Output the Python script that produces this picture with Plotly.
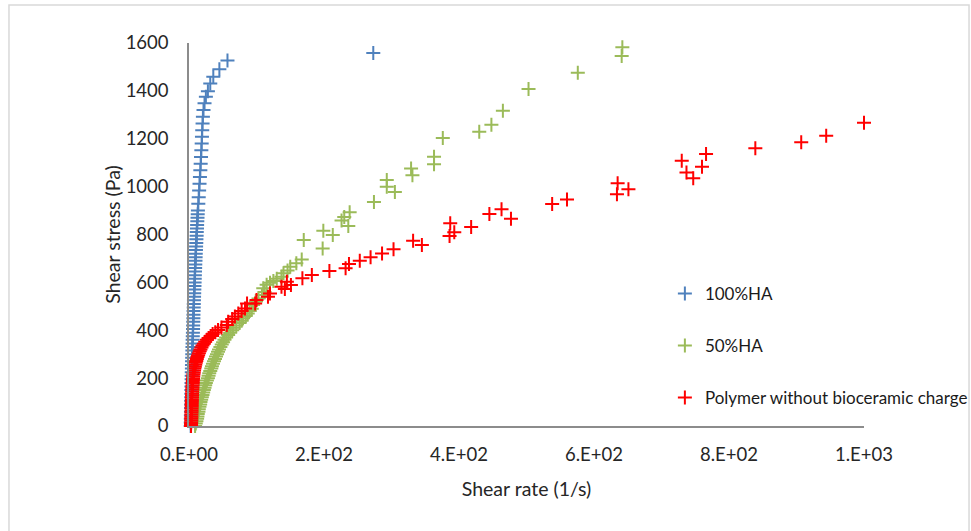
import plotly.graph_objects as go

# ---- data ----
ha100_x = [2.5, 2.6, 2.7, 2.8, 2.9, 3.0, 3.1, 3.2, 3.3, 3.4,
           3.5, 3.6, 3.7, 3.9, 4.0, 4.1, 4.3, 4.4, 4.5, 4.7,
           4.8, 5.0, 5.1, 5.3, 5.4, 5.6, 5.8, 6.0, 6.1, 6.3,
           6.5, 6.6, 6.8, 7.0, 7.1, 7.3, 7.5, 7.7, 7.9, 8.1,
           8.3, 8.5, 8.7, 8.9, 9.1, 9.3, 9.6, 9.8, 10.0, 10.3,
           10.5, 10.8, 11.0, 11.3, 11.5, 11.8, 12.0, 12.3, 12.6, 12.9,
           13.2,
           13.8, 14.4, 15.0, 15.6, 16.2, 16.8, 17.3, 17.8, 18.3, 18.8,
           19.2, 19.6, 20.1, 20.6, 21.5, 23.0, 25.0, 28.0, 31.5, 36.0,
           45.0, 57.0, 273.0]
ha100_y = [0, 15, 30, 45, 60, 75, 90, 105, 120, 135,
           150, 165, 180, 195, 210, 225, 240, 255, 270, 285,
           300, 315, 330, 345, 360, 375, 390, 405, 420, 435,
           450, 465, 480, 495, 510, 525, 540, 555, 570, 585,
           600, 615, 630, 645, 660, 675, 690, 705, 720, 735,
           750, 765, 780, 795, 810, 825, 840, 855, 870, 885,
           900,
           928, 956, 984, 1012, 1040, 1068, 1096, 1124, 1152, 1180,
           1208, 1236, 1264, 1292, 1320, 1348, 1375, 1398, 1431, 1459,
           1490, 1527, 1558]

ha50_x = [9, 10, 11, 12, 12.5, 13, 14, 14.5, 15.5, 16.5,
          17, 18, 19, 20, 21, 22, 23, 24, 25, 26.5,
          28, 29, 30, 31.5, 33, 34, 35.5, 37, 38.5, 40,
          41.5, 43, 44.5, 46.5, 48.5, 50.5, 52.5, 55, 58, 61,
          64, 66, 70, 75, 78, 80, 84, 87, 90, 93,
          95, 99, 103, 108, 112, 110, 115, 120, 125, 130,
          137, 140, 146, 150, 159, 167,
          170, 198, 199, 213, 226, 236, 230, 238, 274, 293,
          293, 305, 329, 331, 363, 363, 376, 430, 448, 465,
          503, 576, 641, 642]
ha50_y = [0, 10, 20, 30, 40, 50, 60, 70, 80, 90,
          100, 110, 120, 130, 140, 150, 160, 170, 180, 190,
          200, 210, 220, 230, 240, 250, 260, 270, 280, 290,
          300, 310, 320, 330, 340, 350, 360, 370, 380, 390,
          400, 410, 420, 430, 440, 450, 460, 470, 480, 490,
          505, 520, 533, 547, 560, 575, 590, 598, 606, 615,
          624, 638, 650, 665, 680, 696,
          777, 742, 816, 798, 858, 836, 873, 893, 936, 1000,
          1028, 978, 1076, 1048, 1093, 1125, 1203, 1229, 1259, 1317,
          1408, 1476, 1546, 1582]

poly_x = [3, 3, 3.2, 3.3, 3.4, 3.5, 3.6, 3.7, 3.8, 3.9,
          4, 4, 4.1, 4.2, 4.3, 4.4, 4.5, 4.6, 4.7, 4.8,
          5, 5.2, 5.4, 5.6, 5.8, 6, 6.3, 6.6, 7, 7.5,
          8, 8.6, 9.3, 10, 10.8, 11.6, 12.5, 13.5, 14.6, 15.8,
          17, 18.5, 20, 22, 24, 26.5, 29, 32, 35, 39,
          43, 48, 56, 58, 64, 68, 73, 78, 83, 86,
          98, 100, 117, 120, 137, 142, 145, 151, 168, 182,
          208, 232, 237, 253, 269, 286, 303, 332, 345, 386,
          393, 387, 418, 445, 463, 477, 538, 560, 634, 635,
          651, 730, 737, 747, 760, 766, 839, 907, 944, 1000]
poly_y = [0, 8, 16, 24, 32, 40, 48, 56, 64, 72,
          80, 88, 96, 104, 112, 120, 128, 136, 144, 152,
          160, 168, 176, 184, 192, 200, 208, 216, 224, 232,
          240, 248, 256, 264, 272, 280, 288, 296, 304, 312,
          320, 328, 336, 344, 352, 360, 368, 376, 384, 392,
          401, 412, 422, 436, 447, 457, 470, 480, 491, 512,
          512, 526, 540, 554, 582, 572, 603, 589, 617, 631,
          648, 659, 677, 690, 705, 721, 738, 774, 756, 794,
          809, 847, 831, 886, 906, 866, 927, 946, 968, 1014,
          989, 1108, 1059, 1035, 1083, 1136, 1160, 1185, 1213, 1267]

series_names = ["100%HA", "50%HA", "Polymer without bioceramic charge"]
series_colors = ["#4F81BD", "#9BBB59", "#FF0000"]

x_tickvals = [0, 200, 400, 600, 800, 1000]
x_ticktext = ["0.E+00", "2.E+02", "4.E+02", "6.E+02", "8.E+02", "1.E+03"]
y_tickvals = [0, 200, 400, 600, 800, 1000, 1200, 1400, 1600]

FONT = "Lato"
TXT = "#262626"

fig = go.Figure()
for i, (xs, ys) in enumerate([(ha100_x, ha100_y), (ha50_x, ha50_y), (poly_x, poly_y)]):
    fig.add_trace(go.Scatter(
        x=xs, y=ys, mode="markers", name=series_names[i],
        legendgroup="g%d" % i,
        cliponaxis=False,
        marker=dict(symbol="cross-thin", size=10,
                    line=dict(color=series_colors[i], width=2),
                    color=series_colors[i]),
    ))

fig.update_layout(
    width=971, height=531,
    margin=dict(l=189, r=107, t=43, b=105, autoexpand=False),
    paper_bgcolor="white", plot_bgcolor="white",
    font=dict(family=FONT, size=18.5, color=TXT),
    showlegend=True,
    legend=dict(x=0.705, y=0.392, xanchor="left", yanchor="top",
                bgcolor="rgba(0,0,0,0)", tracegroupgap=27,
                font=dict(family=FONT, size=17, color="#1a1a1a")),
    xaxis=dict(range=[0, 1000], tickvals=x_tickvals, ticktext=x_ticktext,
               showgrid=False, zeroline=False, showline=True,
               linecolor="#8c8c8c", linewidth=1.5, ticks="",
               ticklabelstandoff=11, automargin=False,
               tickfont=dict(family=FONT, size=18.5, color=TXT),
               title=dict(text="Shear rate (1/s)", standoff=18,
                          font=dict(family=FONT, size=19.5, color=TXT))),
    yaxis=dict(range=[0, 1600], tickvals=y_tickvals,
               showgrid=False, zeroline=False, showline=True,
               linecolor="#8c8c8c", linewidth=1.5, ticks="",
               ticklabelstandoff=15, automargin=False,
               tickfont=dict(family=FONT, size=18.5, color=TXT),
               title=dict(text="Shear stress (Pa)", standoff=0,
                          font=dict(family=FONT, size=19.5, color=TXT))),
    shapes=[dict(type="rect", xref="paper", yref="paper",
                 x0=-0.2667, x1=1.1556, y0=-0.30, y1=1.0992,
                 line=dict(color="#d9d9d9", width=1.5), layer="below")],
)

fig.write_html("out.html")
